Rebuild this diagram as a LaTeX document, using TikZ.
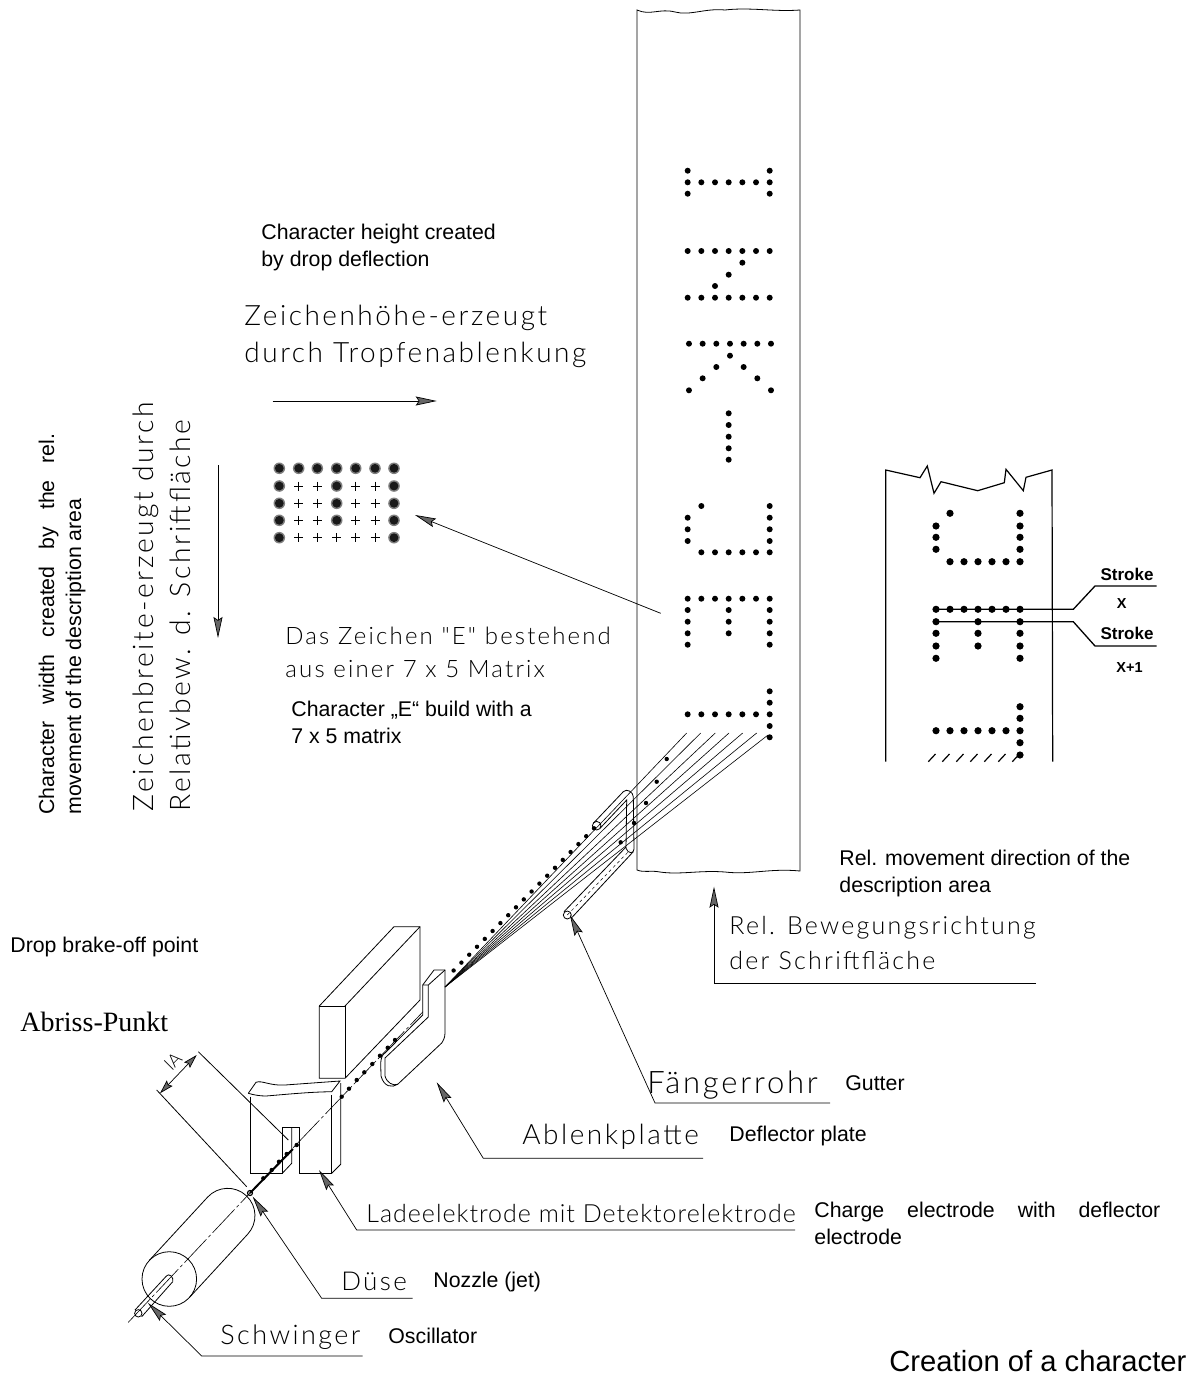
\documentclass[tikz,border=0pt]{standalone}
\usepackage{fontspec}
\setmainfont{Liberation Sans}
\newfontfamily\cadfont[LetterSpace=9]{Lato Light}
\newfontfamily\cadtight[LetterSpace=4]{Lato Light}
\newfontfamily\cadplain{Lato Light}
\newfontfamily\romanfont{Liberation Serif}
\usetikzlibrary{arrows.meta,calc}
\begin{document}
\begin{tikzpicture}[x=1pt,y=-1pt,line width=0.8pt,
  txt/.style={anchor=west,inner sep=0pt,align=left,font=\fontsize{21.3}{27}\selectfont},
  cad/.style={anchor=west,inner sep=0pt,align=left,font=\cadfont\fontsize{28}{37}\selectfont},
  bold/.style={inner sep=0pt,font=\bfseries\fontsize{14.5}{16}\selectfont},
  lead/.style={-{Stealth[length=21pt,width=9pt,inset=3pt,fill=black!60]},line width=0.7pt}]
  \useasboundingbox (0,0) rectangle (1197,1376);
  \def\cola{674}
  % paper strip
  \draw (637,10) .. controls (650,16) and (660,8) .. (675,12) .. controls (690,16) and (705,8) .. (725,10) .. controls (750,7) and (775,12) .. (800,10) -- (800,871) .. controls (770,868) and (750,875) .. (725,872) .. controls (700,870) and (680,875) .. (660,872) .. controls (650,870) and (645,873) .. (637,870) -- cycle;
  % characters on the strip
  \foreach \c/\r in {1/170.7,7/170.7,1/182.3,2/182.3,3/182.3,4/182.3,5/182.3,6/182.3,7/182.3,1/193.7,7/193.7,
    1/251,2/251,3/251,4/251,5/251,6/251,7/251,5/262.7,4/274.7,3/286,1/297.7,2/297.7,3/297.7,4/297.7,5/297.7,6/297.7,7/297.7,
    4/413.3,4/425,4/436.7,4/448.3,4/459.7,
    2/506,7/506,1/517.7,7/517.7,1/529.3,7/529.3,1/541,7/541,2/552.3,3/552.3,4/552.3,5/552.3,6/552.3,7/552.3,
    1/598.7,2/598.7,3/598.7,4/598.7,5/598.7,6/598.7,7/598.7,1/610,4/610,7/610,1/621.7,4/621.7,7/621.7,1/633.3,4/633.3,7/633.3,1/644.7,7/644.7,
    7/691.3,7/702.7,1/714.3,2/714.3,3/714.3,4/714.3,5/714.3,6/714.3,7/714.3,7/726,7/737.3}
    \fill ({\cola+\c*13.67},\r) circle (3);
  \foreach \c/\r in {1/343.7,2/343.7,3/343.7,4/343.7,5/343.7,6/343.7,7/343.7,4/355.7,3/367,5/367,2/378.3,6/378.3,1/390.3,7/390.3}
    \fill ({\cola+1.3+\c*13.67},\r) circle (3);
  % beam
  \coordinate (fan) at (445,987);
  \foreach \x in {686.7,700.7,715.3,729,742.7,756.7}
    \draw[line width=0.6pt] (fan) -- (\x,733);
  \draw[line width=0.6pt] (fan) -- (768,735);
  \foreach \n in {0,...,18}
    \fill ({594-7.8*\n},{828.3+7.9*\n}) circle (2.2);
  \foreach \x/\y in {666.7/759,656.7/781.7,646/803,634/823,620.7/842.3,395/1040,387.7/1047.7,380/1055.7,372.3/1064,364.3/1072.3,356.7/1080,349/1088.7,341.7/1096.7,296.7/1145,286.7/1154,279/1161.7,271.7/1170,263.3/1178.3}
    \fill (\x,\y) circle (2.2);
  % gutter
  \draw (567.3,915) circle (4);
  \draw (596.7,825.7) circle (4.3);
  \draw (593.3,823.3) -- (623.3,791.7) .. controls (627,788) and (633,792) .. (633.3,796.7) -- (634,849) .. controls (634,854) and (628,854) .. (626,848.3) -- (626.7,800) -- (600,828.3);
  \draw (564,911.7) -- (626,847);
  \draw (571.7,917.7) -- (633.3,851.7);
  \draw[dashed,line width=0.5pt] (567.3,915) -- (630,850);
  % deflector plates
  \draw (319.3,1006) -- (394,926.7) -- (420,926.7) -- (420,1000) -- (345,1078.3) -- (319.3,1078.3) -- cycle;
  \draw (319.3,1006) -- (345,1006) -- (345,1078.3);
  \draw (345,1006) -- (420,926.7);
  \draw (422.7,985) -- (434,970) -- (445,970) -- (445,1033) .. controls (445,1038) and (443,1041) .. (441.7,1043) -- (397.7,1084.3) .. controls (392,1088) and (384,1087) .. (381,1076) -- (380.7,1063) .. controls (381,1057) and (383,1054) .. (385,1053) -- (422.7,1015) -- cycle;
  \draw (422.7,985) -- (428.3,985) -- (445,970);
  \draw (428.3,985) -- (428.3,1017) -- (385,1058) .. controls (385,1066) and (385,1074) .. (385,1076) .. controls (387,1083) and (393,1086) .. (397.7,1084.3);
  % charge electrode
  \draw (250,1096.7) -- (250,1173.3) -- (282.3,1173.3) -- (282.3,1127.3) -- (299,1127.3) -- (299,1173.3) -- (331.7,1173.3) -- (331.7,1095);
  \draw (282.3,1173.3) -- (291.7,1163.3) -- (291.7,1127.3);
  \draw (331.7,1173.3) -- (340.7,1164.3) -- (340.7,1083);
  \draw (248.3,1093.3) -- (256,1082.3) .. controls (262,1080) and (270,1086) .. (285,1085) -- (340,1081) -- (331.7,1091.7) .. controls (310,1092) and (290,1094) .. (266,1096) .. controls (260,1096) and (254,1095) .. (248.3,1093.3);
  % oscillator
  \draw (169.3,1279) circle (27.3);
  \draw (149.3,1260.4) -- (207.7,1197) arc[start angle=-137,end angle=43,radius=27.3] -- (189.3,1297.6);
  \draw (166.7,1275.7) -- (135,1310);
  \draw (172.7,1281.7) -- (141.7,1316.7);
  \draw (166.7,1275.7) .. controls (169,1273) and (174,1277) .. (172.7,1281.7);
  \draw (138.3,1313.3) circle (3.7);
  \coordinate (nozzle) at (250,1193);
  \draw[line width=0.6pt,dash pattern=on 32pt off 3pt on 3pt off 3pt] (128.3,1322.3) -- (nozzle) -- (423,1011.7);
  \draw[line width=2pt] (nozzle) -- (293,1149);
  \draw[line width=1.2pt] (nozzle) circle (2.5);
  % dimension lA
  \draw (198.3,1051.7) -- (288.3,1140);
  \draw (156.7,1090) -- (246.7,1186.7);
  \draw[{Stealth[length=14pt,width=8pt,inset=2pt,fill=black!60]}-{Stealth[length=14pt,width=8pt,inset=2pt,fill=black!60]},line width=0.7pt] (196.7,1055) -- (160,1093.3);
  \node[cad,anchor=center,rotate=45,font=\cadplain\fontsize{18}{19}\selectfont] (lenA) at (173,1061) {lA};
  % matrix
  \foreach \x [count=\c] in {279.3,298.7,317.3,336.7,355.7,375,394}
    \foreach \y [count=\r] in {468.3,486,503.3,520.3,537.7} {
      \pgfmathtruncatemacro{\big}{(\r==1)||(\c==1)||(\c==7)||((\c==4)&&(\r<5))}
      \ifnum\big=1
        \fill[black!50] (\x,\y) circle (5.8);
        \fill[black!90] (\x,\y) circle (4.4);
      \else
        \draw[line width=0.5pt] (\x-4.5,\y) -- (\x+4.5,\y) (\x,\y-4.5) -- (\x,\y+4.5);
      \fi
    }
  % small arrows
  \coordinate (hA) at (272.7,401);
  \coordinate (hB) at (436.7,401);
  \draw[lead] (hA) -- (hB);
  \coordinate (vA) at (218,465);
  \coordinate (vB) at (218,638);
  \draw[lead] (vA) -- (vB);
  \coordinate (eA) at (660.7,613.3);
  \coordinate (eB) at (415,515);
  \draw[lead] (eA) -- (eB);
  % inset
  \draw[line width=1.2pt] (885.7,761.7) -- (885.7,470) -- (920,477.7) -- (927.3,466) -- (934,493.3) -- (941,481.7) -- (977.7,490.7) -- (1004.3,482.7) -- (1006,469.3) -- (1023.3,490.7) -- (1026,477.3) -- (1052,470) -- (1052.7,761.7);
  \foreach \c/\r in {2/513.3,7/513.3,1/526,7/526,1/537.3,7/537.3,1/549.3,7/549.3,2/561.7,3/561.7,4/561.7,5/561.7,6/561.7,7/561.7,
    1/609.3,2/609.3,3/609.3,4/609.3,5/609.3,6/609.3,7/609.3,1/621.7,4/621.7,7/621.7,1/633.3,4/633.3,7/633.3,1/646,4/646,7/646,1/658.3,7/658.3,
    7/706.7,7/718.3,1/730.7,2/730.7,3/730.7,4/730.7,5/730.7,6/730.7,7/730.7,7/742.7,7/755}
    \fill ({922+\c*14},\r) circle (3.6);
  \foreach \c in {0,...,6}
    \draw[line width=1.2pt] ({928.3+\c*14},761.7) -- ({935.5+\c*14},754);
  \coordinate (sxA) at (936,609.3);
  \coordinate (sxB) at (936,621.7);
  \draw[line width=1.3pt] (sxA) -- (1073.3,609.3) -- (1095,586) -- (1156.7,586);
  \draw[line width=1.3pt] (sxB) -- (1073.3,621.7) -- (1095,646) -- (1156.7,646);
  \node[bold,font=\bfseries\fontsize{17}{18}\selectfont] (strokeA) at (1127,574) {Stroke};
  \node[bold,font=\bfseries\fontsize{17}{18}\selectfont] (strokeB) at (1127,633) {Stroke};
  \node[bold] (strokeX) at (1121.7,603.5) {X};
  \node[bold] (strokeY) at (1129.5,667.5) {X+1};
  % upper labels
  \node[txt] (heightEn) at (261,247.5) {Character height created\\by drop deflection};
  \node[cad] (heightDe) at (244,336) {Zeichenhöhe-erzeugt\\durch Tropfenablenkung};
  \node[txt,rotate=90,anchor=south west] (widthEn) at (86,815) {Character\hspace{.52em} width\hspace{.52em} created\hspace{.52em} by\hspace{.52em} the\hspace{.52em} rel.\\movement of the description area};
  \node[cad,rotate=90,anchor=south west,font=\cadfont\fontsize{28.3}{37}\selectfont] (widthDe) at (191,812) {Zeichenbreite-erzeugt durch\\Relativbew. d. Schriftfläche};
  \node[cad,font=\cadfont\fontsize{24}{33}\selectfont] (matrixDe) at (285,652) {Das Zeichen "E" bestehend\\aus einer 7 x 5 Matrix};
  \node[txt] (matrixEn) at (291,722.5) {Character „E“ build with a\\7 x 5 matrix};
  % lower labels and leaders
  \node[txt] (moveEn) at (839,873.5) {Rel. movement direction of the\\description area};
  \node[cad,font=\cadfont\fontsize{25}{35}\selectfont] (moveDe) at (729,942.5) {Rel. Bewegungsrichtung\\der Schriftfläche};
  \node[txt] (dropEn) at (10,947) {Drop brake-off point};
  \node[txt,font=\romanfont\fontsize{28}{30}\selectfont] (dropDe) at (20,1022) {Abriss-Punkt};
  \node[cad,font=\cadfont\fontsize{31}{34}\selectfont] (gutterDe) at (647,1085) {Fängerrohr};
  \node[txt] (gutterEn) at (845,1083) {Gutter};
  \node[cad] (plateDe) at (522,1137) {Ablenkplatte};
  \node[txt] (plateEn) at (729,1136) {Deflector plate};
  \node[cad,font=\cadtight\fontsize{25}{28}\selectfont] (chargeDe) at (366,1213) {Ladeelektrode mit Detektorelektrode};
  \node[txt] (chargeEn) at (814,1223.5) {Charge\hspace{.8em} electrode\hspace{.8em} with\hspace{.8em} deflector\\electrode};
  \node[cad,font=\cadfont\fontsize{26}{28}\selectfont] (nozzleDe) at (341,1281) {Düse};
  \node[txt] (nozzleEn) at (433,1282) {Nozzle (jet)};
  \node[cad,font=\cadfont\fontsize{27}{29}\selectfont] (oscDe) at (220,1337) {Schwinger};
  \node[txt] (oscEn) at (388,1336) {Oscillator};
  \node[txt,font=\fontsize{29.2}{32}\selectfont] (title) at (889,1361) {Creation of a character};
  \coordinate (moveTip) at (714,886.7);
  \draw[lead] (1036,983) -- (714,983) -- (moveTip);
  \coordinate (gutterTip) at (570,915);
  \draw[lead] (830,1103) -- (655,1103) -- (gutterTip);
  \coordinate (plateTip) at (436.7,1082.3);
  \draw[lead] (703,1158.3) -- (483.3,1158.3) -- (plateTip);
  \coordinate (chargeTip) at (319,1170);
  \draw[lead] (795,1230) -- (356.7,1230) -- (chargeTip);
  \coordinate (nozzleTip) at (252.7,1196.7);
  \draw[lead] (412.7,1298.3) -- (321.7,1298.3) -- (nozzleTip);
  \coordinate (oscTip) at (148,1303);
  \draw[lead] (362.7,1356) -- (201.7,1356) -- (oscTip);
\end{tikzpicture}
\end{document}
